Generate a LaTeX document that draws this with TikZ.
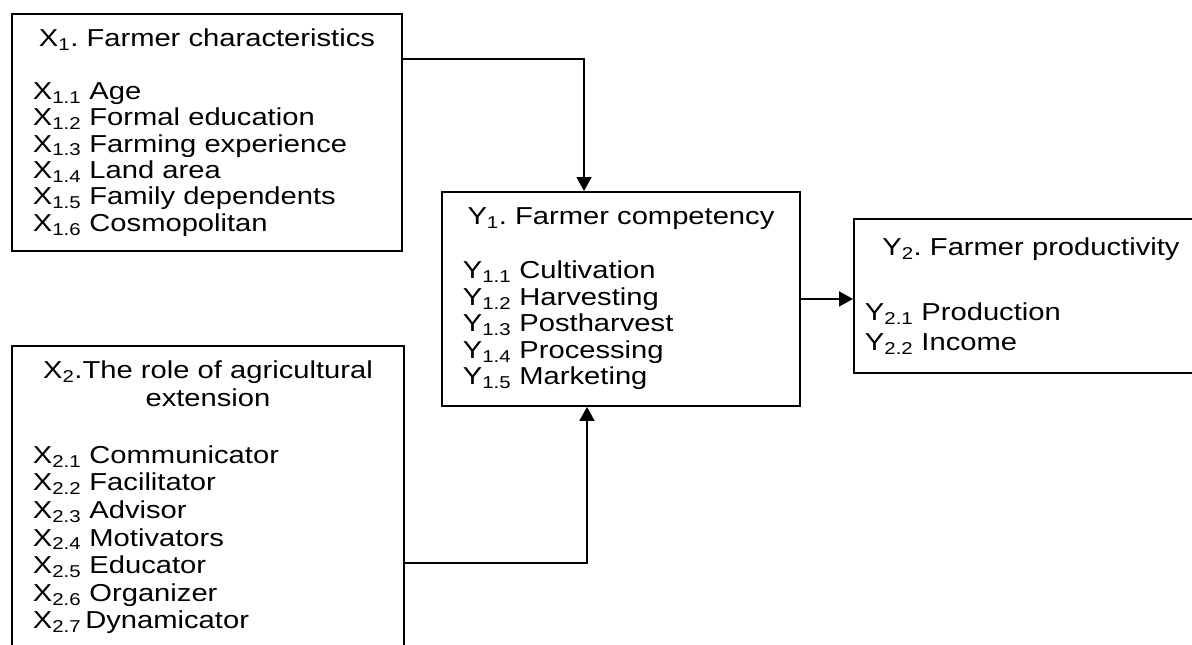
\documentclass[tikz,border=0pt]{standalone}
\usepackage{fontspec}
\setmainfont[FakeStretch=1.19]{Liberation Sans}
\usetikzlibrary{arrows.meta}
\frenchspacing

\begin{document}
\begin{tikzpicture}[x=1pt,y=-1pt,
    box/.style={draw,line width=1.9pt,anchor=north west,inner ysep=0pt},
    link/.style={line width=1.9pt,-{Triangle[length=14pt,width=15pt]}}]
    \pgfmathsetmacro{\fontheight}{24.5}
    \providecommand{\boxfont}[1]{\fontsize{\fontheight}{#1}\selectfont}
    \useasboundingbox (0,0) rectangle (1192,645);
    \clip (0,0) rectangle (1192,645);
    % independent variables
    \node[box,text width=348pt,inner xsep=21pt,minimum height=237pt,font=\boxfont{26.4}] (x1) at (11,13)
    {{\centering X\textsubscript{1}. Farmer characteristics\par}\vspace{26.6pt}\raggedright
    X\textsubscript{1.1} Age\\
    X\textsubscript{1.2} Formal education\\
    X\textsubscript{1.3} Farming experience\\
    X\textsubscript{1.4} Land area\\
    X\textsubscript{1.5} Family dependents\\
    X\textsubscript{1.6} Cosmopolitan};
    \node[box,text width=350pt,inner xsep=21pt,minimum height=303pt,font=\boxfont{27.6}] (x2) at (11,345)
    {{\centering X\textsubscript{2}.The role of agricultural\\extension\par}\vspace{29.4pt}\raggedright
    X\textsubscript{2.1} Communicator\\
    X\textsubscript{2.2} Facilitator\\
    X\textsubscript{2.3} Advisor\\
    X\textsubscript{2.4} Motivators\\
    X\textsubscript{2.5} Educator\\
    X\textsubscript{2.6} Organizer\\
    X\textsubscript{2.7}\,Dynamicator};
    % dependent variables
    \node[box,text width=316pt,inner xsep=21pt,minimum height=214pt,font=\boxfont{26.5}] (y1) at (441,191)
    {{\centering Y\textsubscript{1}. Farmer competency\par}\vspace{27.5pt}\raggedright
    Y\textsubscript{1.1} Cultivation\\
    Y\textsubscript{1.2} Harvesting\\
    Y\textsubscript{1.3} Postharvest\\
    Y\textsubscript{1.4} Processing\\
    Y\textsubscript{1.5} Marketing};
    \node[box,text width=332pt,inner xsep=11pt,minimum height=154pt,font=\boxfont{30}] (y2) at (853,218)
    {{\centering Y\textsubscript{2}. Farmer productivity\par}\vspace{35pt}\raggedright
    Y\textsubscript{2.1} Production\\
    Y\textsubscript{2.2} Income\par\vspace{7pt}};
    \coordinate (k1) at (584,59);
    \coordinate (k2) at (587,563);
    \draw[link] (x1.east |- k1) -- (k1) -- (y1.north -| k1);
    \draw[link] (x2.east |- k2) -- (k2) -- (y1.south -| k2);
    \draw[link] (y1.east) -- (y2.west |- y1.east);
\end{tikzpicture}
\end{document}
